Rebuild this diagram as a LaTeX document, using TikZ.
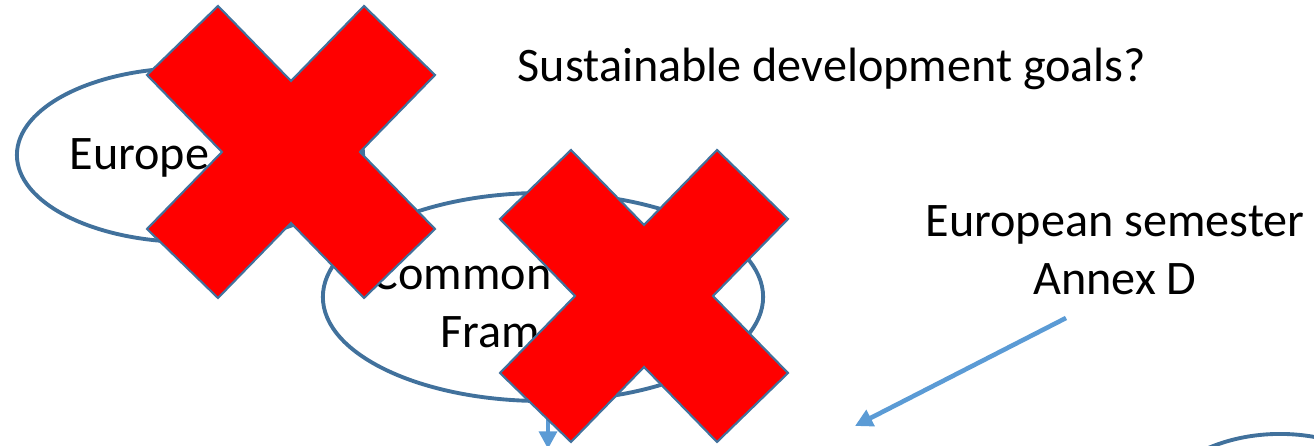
\documentclass[tikz,border=0pt]{standalone}
\usepackage{fontspec}
\setmainfont{Carlito}
\usetikzlibrary{arrows.meta, shapes.geometric}

\definecolor{ovalblue}{HTML}{41719C}
\definecolor{arrowblue}{HTML}{5B9BD5}

\begin{document}
\begin{tikzpicture}[
  x=0.01cm, y=-0.01cm,
  every node/.style={font=\fontsize{13.7}{16.5}\selectfont, inner sep=0pt},
  oval/.style={draw=ovalblue, line width=1.1pt, ellipse},
  arrow/.style={-{Triangle[length=5pt, width=5pt]}, draw=arrowblue, fill=arrowblue, line width=1.3pt},
  crossmark/.style={fill=red, draw=ovalblue, line width=0.6pt, line join=miter},
]
\clip (0,0) rectangle (1314,446);

% ---- ovals ----
\node[oval, minimum width=3.46cm, minimum height=1.74cm] (europe) at (190,155) {};
\node[anchor=base west] (europetxt) at (69,170) {Europe};

\node[oval, minimum width=4.40cm, minimum height=2.08cm] (csf) at (543,297) {};
\node[anchor=north west, align=left] (csftxt) at (372,258) {Common S\\\hspace*{0.68cm}Frame};

\node[oval, minimum width=2.80cm, minimum height=2.00cm] (nextoval) at (1280,534) {};

% ---- texts ----
\node[anchor=base] (sdg) at (832,82) {Sustainable development goals?};
\node[align=center] (semester) at (1115,250) {European semester\\Annex D};

% ---- arrows ----
\coordinate (semfoot) at (1066,318);
\coordinate (semtip) at (855,426);
\draw[arrow] (semfoot) -- (semtip);

\coordinate (csfdown) at (548,449);
\draw[arrow] (csf.south -| csfdown) -- (csfdown);

% ---- crosses ----
\foreach \cx/\cy in {291/152, 644/296}
  \draw[crossmark, shift={(\cx,\cy)}] (-73,-146) -- (0,-71) -- (73,-146) -- (144,-77)
    -- (69,0) -- (144,77) -- (73,146) -- (0,71) -- (-73,146) -- (-144,77)
    -- (-69,0) -- (-144,-77) -- cycle;

\end{tikzpicture}
\end{document}
